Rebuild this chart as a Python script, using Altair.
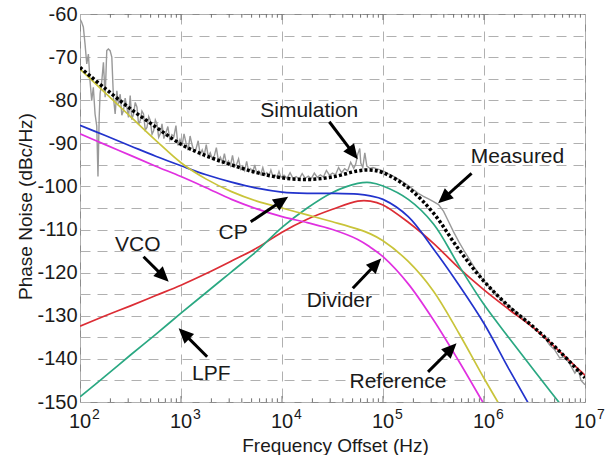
import math
import altair as alt
import pandas as pd

# ---------------- data ----------------
FREQ_LOG10 = [2.0, 2.25, 2.5, 2.75, 3.0, 3.25, 3.5, 3.75, 4.0, 4.25, 4.5, 4.75,
              4.875, 5.0, 5.25, 5.5, 5.75, 6.0, 6.25, 6.5, 6.75, 7.0]
VCO_DB = [-132.4, -130.0, -127.7, -125.3, -122.9, -120.2, -117.3, -114.3, -110.6, -107.6,
          -105.3, -103.4, -103.4, -104.3, -108.3, -113.2, -118.9, -124.0, -128.6, -133.0,
          -138.3, -143.8]
LPF_DB = [-148.8, -144.0, -139.1, -134.3, -129.4, -124.6, -119.8, -115.0, -109.5, -105.0,
          -101.4, -99.3, -99.1, -99.9, -103.0, -108.7, -118.3, -127.4, -135.2, -142.8,
          -150.3, -157.8]
CP_DB = [-85.8, -88.2, -90.6, -93.0, -95.2, -97.3, -99.0, -100.4, -101.3, -101.6,
         -101.6, -101.8, -102.2, -103.0, -107.0, -114.5, -122.8, -131.8, -142.5, -152.8,
         -162.8, -172.8]
DIVIDER_DB = [-72.8, -78.3, -83.8, -89.3, -94.5, -98.3, -101.2, -103.4, -105.0, -106.6,
              -108.2, -109.9, -111.0, -112.6, -117.4, -124.3, -134.0, -144.5, -154.5,
              -164.5, -174.5, -184.5]
REFERENCE_DB = [-87.8, -90.3, -92.8, -95.3, -97.7, -100.3, -103.0, -105.2, -107.0, -108.4,
                -110.0, -112.3, -114.1, -116.3, -122.6, -131.0, -140.5, -150.5, -160.5,
                -170.5, -180.5, -190.5]
SIMULATION_DB = [-72.4, -77.3, -82.0, -86.2, -90.2, -92.9, -95.0, -96.8, -98.0, -98.4,
                 -97.8, -96.4, -96.2, -96.8, -100.3, -106.2, -114.6, -122.0, -127.9,
                 -132.8, -138.3, -144.4]

MEASURED_LOG10 = [
    2.000, 2.015, 2.033, 2.050, 2.067, 2.083, 2.099, 2.116, 2.132, 2.149, 2.166, 2.178,
    2.190, 2.199, 2.216, 2.232, 2.249, 2.265, 2.281, 2.298, 2.315, 2.331, 2.348, 2.365,
    2.381, 2.398, 2.414, 2.430, 2.447, 2.464, 2.480, 2.497, 2.513, 2.530, 2.547, 2.564,
    2.580, 2.596, 2.613, 2.629, 2.646, 2.663, 2.680, 2.696, 2.713, 2.729, 2.746, 2.762,
    2.779, 2.795, 2.812, 2.830, 2.850, 2.870, 2.890, 2.910, 2.930, 2.950, 2.970, 2.990,
    3.010, 3.030, 3.050, 3.070, 3.090, 3.110, 3.130, 3.150, 3.170, 3.190, 3.210, 3.230,
    3.250, 3.270, 3.290, 3.310, 3.330, 3.350, 3.370, 3.390, 3.410, 3.430, 3.450, 3.470,
    3.490, 3.510, 3.530, 3.550, 3.570, 3.590, 3.610, 3.630, 3.650, 3.670, 3.690, 3.710,
    3.730, 3.750, 3.770, 3.790, 3.810, 3.830, 3.850, 3.870, 3.890, 3.910, 3.930, 3.950,
    3.970, 3.990, 4.020, 4.050, 4.080, 4.110, 4.140, 4.170, 4.200, 4.230, 4.260, 4.290,
    4.320, 4.350, 4.380, 4.410, 4.440, 4.470, 4.500, 4.530, 4.560, 4.590, 4.620, 4.650,
    4.680, 4.710, 4.730, 4.750, 4.770, 4.780, 4.800, 4.820, 4.840, 4.870, 4.900, 4.950,
    5.000, 5.050, 5.100, 5.150, 5.200, 5.250, 5.300, 5.350, 5.400, 5.450, 5.500, 5.550,
    5.600, 5.650, 5.700, 5.750, 5.800, 5.900, 6.000, 6.100, 6.200, 6.300, 6.400, 6.500,
    6.600, 6.650, 6.700, 6.750, 6.800, 6.850, 6.900, 6.930, 6.960, 7.000]
MEASURED_DB = [
    -61.2, -61.8, -63.0, -67.0, -71.6, -69.3, -75.5, -80.1, -77.0, -83.2, -86.0, -97.7,
    -84.0, -78.5, -75.5, -71.2, -79.3, -68.5, -68.1, -68.5, -70.0, -79.3, -83.2, -77.8,
    -80.9, -78.6, -83.5, -82.4, -79.5, -81.6, -84.0, -78.9, -84.5, -83.2, -80.5, -81.6,
    -85.6, -84.7, -82.5, -83.2, -86.9, -86.3, -83.8, -84.7, -87.9, -87.1, -84.6, -85.5,
    -88.6, -87.8, -85.5, -88.9, -87.6, -86.1, -89.2, -88.0, -88.4, -85.9, -90.5, -89.1,
    -90.6, -87.8, -89.9, -91.6, -88.3, -90.4, -91.9, -91.2, -89.4, -92.6, -91.5, -92.8,
    -90.3, -93.1, -92.2, -93.6, -92.9, -91.0, -94.0, -93.2, -94.5, -92.4, -94.8, -94.1,
    -95.2, -92.8, -95.4, -94.9, -93.6, -96.0, -95.3, -96.3, -94.2, -96.5, -95.9, -96.8,
    -95.0, -96.9, -96.4, -97.2, -95.6, -97.3, -96.8, -97.6, -96.2, -97.7, -97.3, -97.9,
    -96.5, -97.9, -97.4, -98.1, -96.8, -98.2, -97.7, -98.3, -97.0, -98.1, -97.6, -98.2,
    -96.9, -97.9, -97.3, -97.8, -96.3, -97.4, -96.9, -97.3, -95.6, -96.8, -95.9, -96.4,
    -94.4, -95.8, -94.8, -92.5, -91.2, -94.6, -95.6, -92.2, -95.3, -95.8, -95.6, -96.0,
    -96.4, -97.0, -97.6, -98.3, -99.0, -99.8, -100.7, -101.6, -102.3, -102.9, -103.5, -104.2,
    -105.8, -108.2, -110.6, -112.8, -114.8, -118.6, -122.0, -124.5, -126.9, -128.8, -130.8,
    -132.9, -135.0, -136.8, -137.9, -139.8, -139.5, -141.2, -143.3, -142.2, -145.0, -146.0]

SERIES_NAMES = ["VCO", "LPF", "CP", "Divider", "Reference"]
SERIES_COLORS = ["#dc2d35", "#2aa882", "#2233cc", "#c9c43a", "#e030e0"]

X_TICKS = [1e2, 1e3, 1e4, 1e5, 1e6, 1e7]
X_TICK_EXPONENTS = ["2", "3", "4", "5", "6", "7"]
Y_GRID = list(range(-150, -55, 5))

ANNOT_TEXT = ["Simulation", "Measured", "CP", "VCO", "LPF", "Divider", "Reference"]
ANNOT_LOG10 = [4.270, 6.332, 3.516, 2.572, 3.300, 4.568, 5.148]
ANNOT_DB = [-83.8, -94.6, -112.3, -114.9, -144.9, -128.0, -146.8]
ARROW_TAIL_LOG10 = [4.468, 5.877, 3.690, 2.629, 3.259, 4.701, 5.446]
ARROW_TAIL_DB = [-85.0, -96.95, -108.2, -116.3, -139.5, -123.6, -143.0]
ARROW_TIP_LOG10 = [4.750, 5.546, 4.061, 2.878, 2.977, 4.982, 5.728]
ARROW_TIP_DB = [-93.7, -103.9, -102.4, -122.1, -132.9, -116.7, -136.4]

# ---------------- layout ----------------
W, H = 505, 388
X_DOMAIN = [1e2, 1e7]
Y_DOMAIN = [-150, -60]
FONT = "Liberation Sans"
PX_PER_DEC = W / 5.0
PX_PER_DB = H / 90.0
HEAD_LEN = 15.0

# ---------------- tables ----------------
rows = []
for name, vals in zip(SERIES_NAMES, [VCO_DB, LPF_DB, CP_DB, DIVIDER_DB, REFERENCE_DB]):
    for l, v in zip(FREQ_LOG10, vals):
        rows.append({"f": 10 ** l, "db": v, "series": name})
comp_df = pd.DataFrame(rows)
sim_df = pd.DataFrame({"f": [10 ** l for l in FREQ_LOG10], "db": SIMULATION_DB})
meas_df = pd.DataFrame({"f": [10 ** l for l in MEASURED_LOG10], "db": MEASURED_DB})

shafts, heads = [], []
for tl, td, pl, pd_ in zip(ARROW_TAIL_LOG10, ARROW_TAIL_DB, ARROW_TIP_LOG10, ARROW_TIP_DB):
    dx = (pl - tl) * PX_PER_DEC
    dy = -(pd_ - td) * PX_PER_DB
    length = math.hypot(dx, dy)
    frac = max(0.0, 1 - 0.6 * HEAD_LEN / length)
    shafts.append({"f": 10 ** tl, "db": td,
                   "f2": 10 ** (tl + frac * (pl - tl)), "db2": td + frac * (pd_ - td)})
    heads.append({"f": 10 ** pl, "db": pd_,
                  "angle": math.degrees(math.atan2(dx, -dy)) % 360})
shaft_df = pd.DataFrame(shafts)
head_df = pd.DataFrame(heads)
text_df = pd.DataFrame({"f": [10 ** l for l in ANNOT_LOG10], "db": ANNOT_DB, "label": ANNOT_TEXT})

tick_rows = []
for d in range(2, 7):
    for k in range(1, 10):
        if d == 2 and k == 1:
            continue
        val = k * 10 ** d
        ln = 1.4 if k == 1 else 0.85
        tick_rows.append({"f": val, "db": -150, "db2": -150 + ln})
        tick_rows.append({"f": val, "db": -60, "db2": -60 - ln})
tick_df = pd.DataFrame(tick_rows)
xlab_df = pd.DataFrame({"f": X_TICKS, "db": [-150] * len(X_TICKS), "base": ["10"] * len(X_TICKS),
                        "exp": X_TICK_EXPONENTS})

# ---------------- encodings ----------------
X_SCALE = alt.Scale(type="log", domain=X_DOMAIN, nice=False)
Y_SCALE = alt.Scale(domain=Y_DOMAIN, nice=False, zero=False)
X_AXIS = alt.Axis(values=X_TICKS, labels=False, ticks=False, domain=False, grid=True,
                  gridDash=[10, 7], gridColor="#b0b0b0", gridWidth=1,
                  title="Frequency Offset (Hz)", titleFont=FONT, titleFontSize=19,
                  titleFontWeight="normal", titleColor="#1a1a1a", titleX=255, titleY=49,
                  titleBaseline="alphabetic", titleAlign="center")
Y_AXIS = alt.Axis(values=Y_GRID, labelExpr="datum.value % 10 === 0 ? '' + datum.value : ''",
                  labelFont=FONT, labelFontSize=20, labelColor="#1a1a1a", labelPadding=3,
                  ticks=False, domain=False, grid=True, gridDash=[10, 7], gridColor="#b0b0b0",
                  gridWidth=1, title="Phase Noise (dBc/Hz)", titleFont=FONT, titleFontSize=19,
                  titleFontWeight="normal", titleColor="#1a1a1a", titleX=-49, titleY=192,
                  titleAngle=270, titleBaseline="alphabetic", titleAlign="center")


def X(field="f"):
    return alt.X(f"{field}:Q", scale=X_SCALE, axis=X_AXIS, title="Frequency Offset (Hz)")


def Y(field="db"):
    return alt.Y(f"{field}:Q", scale=Y_SCALE, axis=Y_AXIS, title="Phase Noise (dBc/Hz)")


measured = alt.Chart(meas_df).mark_line(color="#999999", strokeWidth=1.4, clip=True).encode(
    x=X(), y=Y())
components = alt.Chart(comp_df).mark_line(strokeWidth=1.7, clip=True, interpolate="catmull-rom").encode(
    x=X(), y=Y(),
    color=alt.Color("series:N", scale=alt.Scale(domain=SERIES_NAMES, range=SERIES_COLORS), legend=None),
    detail="series:N")
simulation = alt.Chart(sim_df).mark_line(color="#000000", strokeWidth=3.5, strokeDash=[3, 2.2],
                                         clip=True, interpolate="catmull-rom").encode(x=X(), y=Y())
ticks = alt.Chart(tick_df).mark_rule(color="#707070", strokeWidth=1).encode(
    x=X(), y=Y(), y2="db2:Q")
shaft = alt.Chart(shaft_df).mark_rule(color="#000000", strokeWidth=3, strokeCap="butt").encode(
    x=X(), y=Y(), x2="f2:Q", y2="db2:Q")
head = alt.Chart(head_df).mark_point(shape="M0,0L-0.45,1L0.45,1Z", filled=True, size=HEAD_LEN ** 2 * 4,
                                     color="#000000", opacity=1, strokeWidth=0).encode(
    x=X(), y=Y(), angle=alt.Angle("angle:Q", scale=None))
texts = alt.Chart(text_df).mark_text(font=FONT, fontSize=21, color="#1a1a1a", align="center",
                                     baseline="alphabetic").encode(x=X(), y=Y(), text="label:N")
xbase = alt.Chart(xlab_df).mark_text(font=FONT, fontSize=20, color="#1a1a1a", align="center",
                                     baseline="alphabetic", dy=26).encode(x=X(), y=Y(), text="base:N")
xexp = alt.Chart(xlab_df).mark_text(font=FONT, fontSize=14, color="#1a1a1a", align="left",
                                    baseline="alphabetic", dx=12, dy=17).encode(x=X(), y=Y(), text="exp:N")

chart = alt.layer(measured, components, simulation, ticks, shaft, head, texts, xbase, xexp).properties(
    width=W, height=H,
    padding={"left": 80, "top": 14, "right": 24, "bottom": 53},
    autosize=alt.AutoSizeParams(type="none"),
    background="#ffffff",
).configure_view(stroke="#8c8c8c", strokeWidth=1)

chart.save("out.html", embed_options={"renderer": "svg", "actions": False})
